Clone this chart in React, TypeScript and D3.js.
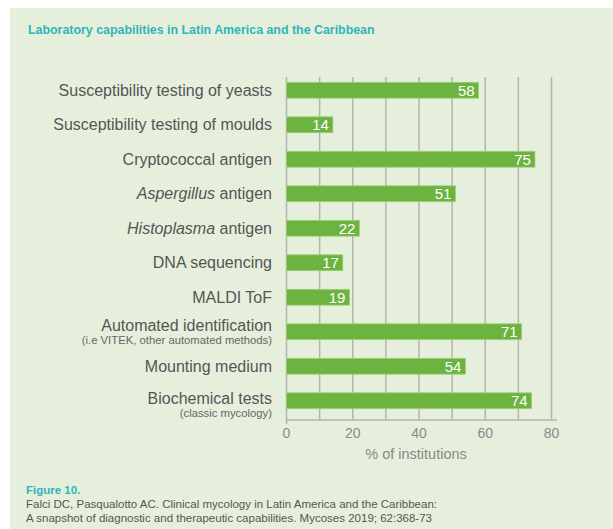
import React from 'react'
import * as d3 from 'd3'

const categories = [
  'Susceptibility testing of yeasts',
  'Susceptibility testing of moulds',
  'Cryptococcal antigen',
  'Aspergillus antigen',
  'Histoplasma antigen',
  'DNA sequencing',
  'MALDI ToF',
  'Automated identification',
  'Mounting medium',
  'Biochemical tests',
]
const italicPart = ['', '', '', 'Aspergillus', 'Histoplasma', '', '', '', '', '']
const subLabels = ['', '', '', '', '', '', '', '(i.e VITEK, other automated methods)', '', '(classic mycology)']
const values = [58, 14, 75, 51, 22, 17, 19, 71, 54, 74]
const ticks = [0, 20, 40, 60, 80]
const gridTicks = [0, 10, 20, 30, 40, 50, 60, 70, 80]

const width = 613
const height = 529
const font = '"Liberation Sans", Arial, Helvetica, sans-serif'
const teal = '#2db6ba'

const x = d3.scaleLinear().domain([0, 80]).range([286.5, 551.5])
const y = d3.scaleBand().domain(categories).range([73, 418]).paddingInner(0.54).paddingOuter(0.27)

export default function App() {
  return (
    <svg width={width} height={height} style={{ position: 'absolute', left: 0, top: 0 }} fontFamily={font}>
      <rect x={0} y={0} width={width} height={height} fill="#fff" />
      <rect x={10} y={8} width={width - 10} height={height - 8} fill="#e6efdc" />
      <text x={28} y={34} fill={teal} fontSize={12.4} fontWeight="bold">
        Laboratory capabilities in Latin America and the Caribbean
      </text>

      {gridTicks.map(t => (
        <line key={t} x1={x(t)} x2={x(t)} y1={77} y2={t === 0 ? 424 : 420} stroke="#b3b5b0" strokeWidth={1.5} />
      ))}
      <line x1={x(0)} x2={557} y1={420} y2={420} stroke="#b3b5b0" strokeWidth={1.5} />

      {categories.map((c, i) => {
        const by = y(c)!
        const bh = y.bandwidth()
        const cy = by + bh / 2
        const sub = subLabels[i]
        // two-line labels sit a bit above the bar centre
        const ly = sub ? cy + (i === 7 ? -1 : 3) : cy + 5.5
        const it = italicPart[i]
        return (
          <g key={c}>
            <rect x={x(0)} y={by} width={x(values[i]) - x(0)} height={bh} fill="#6cb33f" stroke="#9fd07e" strokeWidth={0.8} />
            <text x={x(values[i]) - 4} y={cy + 5.5} fill="#fff" fontSize={15} textAnchor="end">{values[i]}</text>
            <text x={272} y={ly} fill="#555" fontSize={16} textAnchor="end">
              {it ? (
                <>
                  <tspan fontStyle="italic">{it}</tspan>
                  {c.slice(it.length)}
                </>
              ) : c}
            </text>
            {sub && (
              <text x={272} y={ly + 13.5} fill="#666" fontSize={11.3} textAnchor="end">{sub}</text>
            )}
          </g>
        )
      })}

      {ticks.map(t => (
        <text key={t} x={x(t)} y={438} fill="#8a8a8a" fontSize={14} textAnchor="middle">{t}</text>
      ))}
      <text x={416} y={459} fill="#888" fontSize={14.5} textAnchor="middle">% of institutions</text>

      <text x={26} y={494} fill={teal} fontSize={11.5} fontWeight="bold">Figure 10.</text>
      <text x={26} y={508} fill="#555" fontSize={11.5}>
        Falci DC, Pasqualotto AC. Clinical mycology in Latin America and the Caribbean:
      </text>
      <text x={26} y={522} fill="#555" fontSize={11.5}>
        A snapshot of diagnostic and therapeutic capabilities. Mycoses 2019; 62:368-73
      </text>
    </svg>
  )
}
